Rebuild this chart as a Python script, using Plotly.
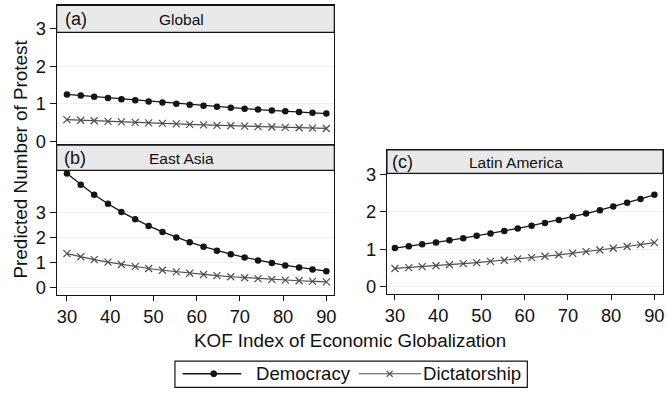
import plotly.graph_objects as go

W, H = 667, 395

# ---------------- data ----------------
kof = [30.0, 33.2, 36.3, 39.5, 42.6, 45.8, 48.9, 52.1, 55.3, 58.4,
       61.6, 64.7, 67.9, 71.1, 74.2, 77.4, 80.5, 83.7, 86.8, 90.0]

global_dem = [1.25, 1.22, 1.185, 1.155, 1.122, 1.093, 1.062, 1.034, 1.002, 0.975,
              0.948, 0.920, 0.896, 0.871, 0.847, 0.823, 0.801, 0.780, 0.759, 0.740]
global_dic = [0.58, 0.564, 0.549, 0.534, 0.520, 0.506, 0.492, 0.479, 0.466, 0.453,
              0.441, 0.429, 0.418, 0.406, 0.395, 0.385, 0.374, 0.364, 0.354, 0.345]

easia_dem = [4.55, 4.10, 3.70, 3.34, 3.01, 2.72, 2.45, 2.21, 1.99, 1.80,
             1.62, 1.46, 1.32, 1.19, 1.07, 0.97, 0.87, 0.79, 0.71, 0.64]
easia_dic = [1.34, 1.215, 1.10, 1.00, 0.907, 0.822, 0.746, 0.676, 0.613, 0.556,
             0.505, 0.458, 0.415, 0.377, 0.342, 0.310, 0.281, 0.255, 0.231, 0.21]

latam_dem = [1.035, 1.083, 1.134, 1.186, 1.241, 1.299, 1.36, 1.423, 1.489, 1.558,
             1.631, 1.707, 1.786, 1.869, 1.956, 2.047, 2.142, 2.242, 2.346, 2.456]
latam_dic = [0.49, 0.513, 0.538, 0.563, 0.590, 0.618, 0.647, 0.678, 0.710, 0.744,
             0.779, 0.816, 0.855, 0.895, 0.938, 0.982, 1.029, 1.077, 1.128, 1.18]

panel_letters = ["(a)", "(b)", "(c)"]
panel_titles = ["Global", "East Asia", "Latin America"]
series_names = ["Democracy", "Dictatorship"]
x_ticks = [30, 40, 50, 60, 70, 80, 90]
y_ticks = [0, 1, 2, 3]

# ---------------- styling ----------------
FONT = "Liberation Sans, Arial, sans-serif"
TXT = "#111111"
DEM_COLOR = "#151515"
DIC_COLOR = "#4f4f4f"
AX_COLOR = "#151515"
GRID = "#efefef"
STRIP = "#e9e9e9"


def px(x):
    return x / W


def py(y):
    return 1 - y / H


fig = go.Figure()

panels = [
    ("x", "y", global_dem, global_dic),
    ("x2", "y2", easia_dem, easia_dic),
    ("x3", "y3", latam_dem, latam_dic),
]
for xa, ya, dem, dic in panels:
    fig.add_trace(go.Scatter(
        x=kof, y=dem, xaxis=xa, yaxis=ya, mode="lines+markers",
        name=series_names[0], showlegend=False,
        line=dict(color=DEM_COLOR, width=1.3),
        marker=dict(symbol="circle", size=6.5, color=DEM_COLOR)))
    fig.add_trace(go.Scatter(
        x=kof, y=dic, xaxis=xa, yaxis=ya, mode="lines+markers",
        name=series_names[1], showlegend=False,
        line=dict(color=DIC_COLOR, width=1.2),
        marker=dict(symbol="x-thin-open", size=7,
                    line=dict(color=DIC_COLOR, width=1.2))))

tickfont = dict(family=FONT, size=18.3, color=TXT)

common_x = dict(showline=True, mirror=True, linecolor=AX_COLOR, linewidth=1.2,
                showgrid=False, zeroline=False, tickfont=tickfont)
common_y = dict(showline=True, mirror=True, linecolor=AX_COLOR, linewidth=1.2,
                showgrid=True, gridcolor=GRID, gridwidth=1, zeroline=False,
                tickvals=y_ticks, ticks="outside", ticklen=6, tickcolor=AX_COLOR,
                tickwidth=1.2, tickfont=tickfont)

# panel geometry (pixels)
L1, R1 = 55, 334.3
L2, R2 = 387.3, 665

fig.update_layout(
    width=W, height=H,
    margin=dict(l=0, r=0, t=0, b=0),
    paper_bgcolor="white", plot_bgcolor="white",
    showlegend=False,
    xaxis=dict(domain=[px(L1), px(R1)], range=[27.63, 91.84], anchor="y",
               showticklabels=False, ticks="", **common_x),
    yaxis=dict(domain=[py(147), py(5.5)], range=[-0.078, 3.613], anchor="x", **common_y),
    xaxis2=dict(domain=[px(L1), px(R1)], range=[27.63, 91.84], anchor="y2",
                tickvals=x_ticks, ticks="outside", ticklen=5, tickcolor=AX_COLOR,
                tickwidth=1.2, **common_x),
    yaxis2=dict(domain=[py(300), py(147.7)], range=[-0.303, 5.686], anchor="x2", **common_y),
    xaxis3=dict(domain=[px(L2), px(R2)], range=[28.16, 92.0], anchor="y3",
                tickvals=x_ticks, ticks="outside", ticklen=5, tickcolor=AX_COLOR,
                tickwidth=1.2, **common_x),
    yaxis3=dict(domain=[py(299.5), py(152.7)], range=[-0.197, 3.653], anchor="x3", **common_y),
)

shapes = []
annotations = []

# strip headers
strips = [
    (L1, R1, 5.5, 33, 61, 180.2),
    (L1, R1, 147.7, 173.5, 60, 180.5),
    (L2, R2, 152.7, 176.5, 390.7, 517.5),
]
for i, (x0, x1, y0, y1, lx, tx) in enumerate(strips):
    shapes.append(dict(type="rect", xref="paper", yref="paper",
                       x0=px(x0), x1=px(x1), y0=py(y1), y1=py(y0),
                       fillcolor=STRIP, line=dict(color=AX_COLOR, width=1.2),
                       layer="above"))
    yc = (y0 + y1) / 2 + 0.5
    annotations.append(dict(xref="paper", yref="paper", x=px(lx), y=py(yc),
                            text=panel_letters[i], showarrow=False,
                            xanchor="left", yanchor="middle",
                            font=dict(family=FONT, size=18, color=TXT)))
    annotations.append(dict(xref="paper", yref="paper", x=px(tx), y=py(yc),
                            text=panel_titles[i], showarrow=False,
                            xanchor="center", yanchor="middle",
                            font=dict(family=FONT, size=15.5, color=TXT)))

# axis titles
annotations.append(dict(xref="paper", yref="paper", x=px(19), y=py(161.5),
                        text="Predicted Number of Protest", showarrow=False,
                        textangle=-90, xanchor="center", yanchor="middle",
                        font=dict(family=FONT, size=18.9, color=TXT)))
annotations.append(dict(xref="paper", yref="paper", x=px(350.3), y=py(346.5),
                        text="KOF Index of Economic Globalization", showarrow=False,
                        xanchor="center", yanchor="middle",
                        font=dict(family=FONT, size=18.8, color=TXT)))

# legend (drawn as layout decoration)
LY = 380.5
shapes.append(dict(type="rect", xref="paper", yref="paper",
                   x0=px(174), x1=px(528.5), y0=py(394.3), y1=py(367.7),
                   line=dict(color=AX_COLOR, width=1.2), fillcolor="rgba(0,0,0,0)"))
shapes.append(dict(type="line", xref="paper", yref="paper",
                   x0=px(181.7), x1=px(240.7), y0=py(LY), y1=py(LY),
                   line=dict(color=DEM_COLOR, width=1.3)))
shapes.append(dict(type="circle", xref="paper", yref="paper",
                   x0=px(213 - 3), x1=px(213 + 3), y0=py(LY + 3), y1=py(LY - 3),
                   fillcolor=DEM_COLOR, line=dict(color=DEM_COLOR, width=1)))
shapes.append(dict(type="line", xref="paper", yref="paper",
                   x0=px(359), x1=px(421.7), y0=py(LY), y1=py(LY),
                   line=dict(color=DIC_COLOR, width=1.2)))
shapes.append(dict(type="line", xref="paper", yref="paper",
                   x0=px(387), x1=px(393), y0=py(LY - 3), y1=py(LY + 3),
                   line=dict(color=DIC_COLOR, width=1.2)))
shapes.append(dict(type="line", xref="paper", yref="paper",
                   x0=px(387), x1=px(393), y0=py(LY + 3), y1=py(LY - 3),
                   line=dict(color=DIC_COLOR, width=1.2)))
annotations.append(dict(xref="paper", yref="paper", x=px(253.5), y=py(LY),
                        text=series_names[0], showarrow=False,
                        xanchor="left", yanchor="middle",
                        font=dict(family=FONT, size=18.6, color=TXT)))
annotations.append(dict(xref="paper", yref="paper", x=px(421.5), y=py(LY),
                        text=series_names[1], showarrow=False,
                        xanchor="left", yanchor="middle",
                        font=dict(family=FONT, size=18.6, color=TXT)))

fig.update_layout(shapes=shapes, annotations=annotations)

fig.write_html("out.html", config={"displayModeBar": False},
               post_script="document.body.style.margin='0px';"
                           "document.body.style.overflow='hidden';")
